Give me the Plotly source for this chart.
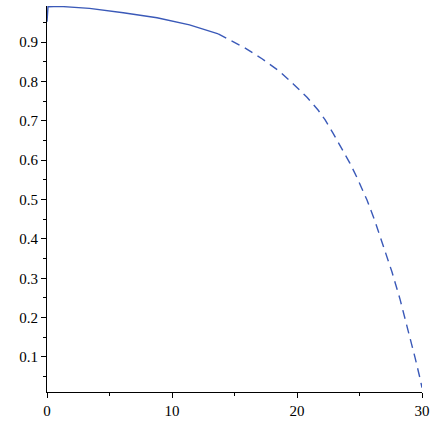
import plotly.graph_objects as go

# solid part of the curve
x_solid = [0.0, 0.08, 1.0, 3.4, 6.1, 8.8, 11.4, 13.7]
y_solid = [0.952, 0.990, 0.991, 0.986, 0.975, 0.962, 0.944, 0.921]

# dashed continuation
x_dash = [13.7, 15.8, 17.2, 18.6, 19.7, 20.8, 21.7, 22.24, 22.88, 23.6, 24.24,
          24.8, 25.28, 25.6, 26.24, 26.9, 27.6, 28.24, 28.64, 29.04, 29.44,
          29.84, 30.0]
y_dash = [0.921, 0.886, 0.858, 0.826, 0.794, 0.760, 0.727, 0.703, 0.669, 0.629,
          0.592, 0.556, 0.523, 0.499, 0.445, 0.385, 0.316, 0.247, 0.199, 0.150,
          0.099, 0.046, 0.022]

line_color = "#3a59b8"
serif = "Liberation Serif"

fig = go.Figure()
fig.add_trace(go.Scatter(x=x_solid, y=y_solid, mode="lines",
                         line=dict(color=line_color, width=1.4),
                         showlegend=False))
fig.add_trace(go.Scatter(x=x_dash, y=y_dash, mode="lines",
                         line=dict(color=line_color, width=1.4, dash="9px,6px"),
                         showlegend=False))

axis_common = dict(
    showgrid=False, zeroline=False, showline=True, linecolor="black", linewidth=1,
    ticks="outside", ticklen=5, tickcolor="black", tickwidth=1,
    tickfont=dict(family=serif, size=15, color="black"),
)
fig.update_layout(
    width=436, height=436,
    margin=dict(l=47, r=14, t=6, b=44),
    font=dict(family=serif, size=15, color="black"),
    paper_bgcolor="white", plot_bgcolor="white",
    xaxis=dict(range=[0, 30], tickvals=[0, 10, 20, 30],
               minor=dict(tickvals=[5, 15, 25], ticklen=3, tickcolor="black", ticks="outside"),
               **axis_common),
    yaxis=dict(range=[0.011, 0.992],
               tickvals=[0.1, 0.2, 0.3, 0.4, 0.5, 0.6, 0.7, 0.8, 0.9],
               minor=dict(tickvals=[0.05, 0.15, 0.25, 0.35, 0.45, 0.55, 0.65, 0.75, 0.85, 0.95],
                          ticklen=3, tickcolor="black", ticks="outside"),
               **axis_common),
)
# force the serif face on tick labels and drop the page margin
js = ("document.body.style.margin='0';"
      "document.querySelectorAll('.xtick text, .ytick text').forEach(function(t){"
      "t.style.fontFamily='\"Liberation Serif\", serif';});")
fig.write_html("out.html", config={"displayModeBar": False}, post_script=js)
